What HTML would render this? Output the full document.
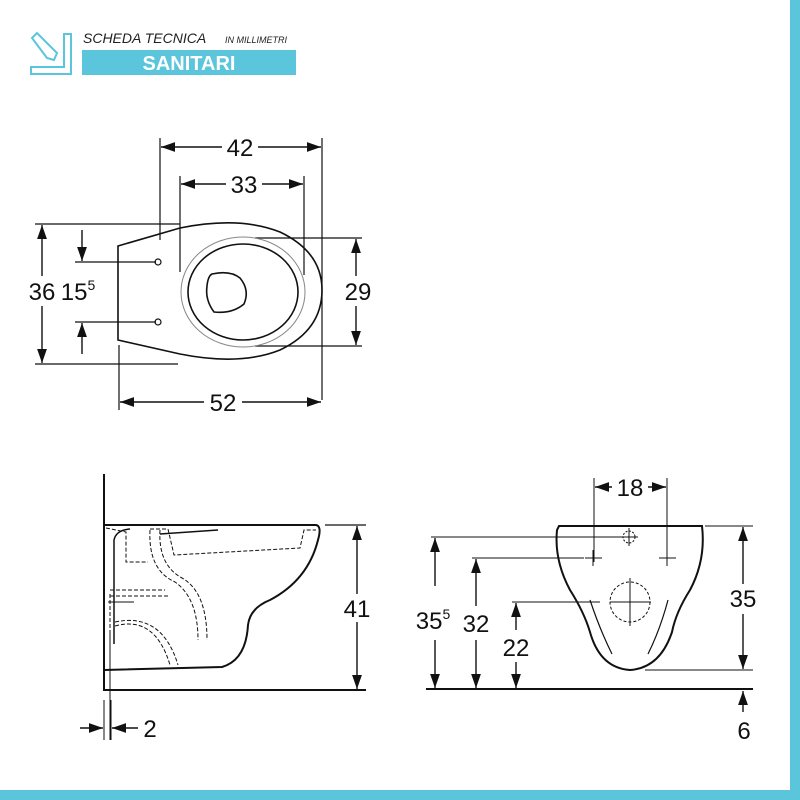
<!DOCTYPE html>
<html><head><meta charset="utf-8"><style>
body{margin:0;background:#fff}
svg{display:block;font-family:"Liberation Sans",sans-serif}
</style></head><body>
<svg width="800" height="800" viewBox="0 0 800 800" xmlns="http://www.w3.org/2000/svg">
<defs>
<marker id="b" viewBox="0 0 10 10" refX="10" refY="5" markerWidth="14" markerHeight="14" markerUnits="userSpaceOnUse" orient="auto"><path d="M0,1.5L10,5L0,8.5z" fill="#111"/></marker>
</defs>
<rect x="790" y="0" width="10" height="800" fill="#5bc5dc"/>
<rect x="0" y="790" width="800" height="10" fill="#5bc5dc"/>
<!-- header -->
<g stroke="#5bc5dc" stroke-width="2" fill="none">
<path d="M64 34h7v40H31v-7h33z"/>
<path d="M32 38l5-5 20 20-3 7-7-2z"/>
</g>
<text x="83" y="43" font-size="14" font-style="italic" fill="#222">SCHEDA TECNICA</text>
<text x="225" y="43" font-size="9" font-style="italic" fill="#222">IN MILLIMETRI</text>
<rect x="82" y="50" width="214" height="25" fill="#5bc5dc"/>
<text x="189" y="70" font-size="20" font-weight="bold" fill="#fff" text-anchor="middle">SANITARI</text>

<g stroke="#111" stroke-width="1.2" fill="none">
<path d="M160 138V240M322 138V400M180 176V272M304 176V275M35 224H180M35 364H178M75 262H156M75 322H156M255 238H362M255 346H362M119 345V410"/>
</g>
<g stroke="#111" stroke-width="1.4" fill="none" marker-end="url(#b)">
<path d="M222 147H161"/><path d="M258 147H321"/>
<path d="M226 184H181"/><path d="M262 184H303"/>
<path d="M42 276V225"/><path d="M42 306V363"/>
<path d="M356 276V239"/><path d="M356 306V345"/>
<path d="M204 402H120"/><path d="M242 402H321"/>
<path d="M82 230V261"/><path d="M82 354V323"/>
</g>
<g stroke="#111" stroke-width="1.6" fill="none">
<path d="M118 246L180 228Q240 216 280 232Q322 252 322 290Q322 330 280 350Q240 366 180 354L118 340Z"/>
<ellipse cx="243" cy="292" rx="62" ry="55" stroke="#888" stroke-width="1"/>
<ellipse cx="243" cy="292" rx="55" ry="48"/>
<path d="M212 274Q230 270 240 278Q250 290 244 304Q232 314 214 312Q205 300 207 286Q208 276 212 274Z"/>
<circle cx="158" cy="262" r="3" stroke-width="1.2"/>
<circle cx="158" cy="322" r="3" stroke-width="1.2"/>
</g>
<g font-size="24" fill="#111" text-anchor="middle">
<text x="240" y="156">42</text>
<text x="244" y="193">33</text>
<text x="42" y="300">36</text>
<text x="78" y="300">15<tspan font-size="14" dy="-10">5</tspan></text>
<text x="358" y="300">29</text>
<text x="223" y="411">52</text>
</g>

<!-- side view -->
<g stroke="#111" stroke-width="2" fill="none">
<path d="M104 474V690H366"/>
<path d="M104 525H316Q322 526 318 540Q308 580 270 600Q250 608 248 625Q246 660 222 667L104 670"/>
<path d="M114 644V540Q116 530 130 529M160 534L218 530" stroke-width="1.5"/>
</g>
<g stroke="#111" stroke-width="1" fill="none" stroke-dasharray="4 2">
<path d="M106 528L126 532V562H148M150 529H168L174 555L300 548L304 530H316"/>
<path d="M150 530Q148 570 175 582Q198 598 198 640M160 530Q158 565 182 578Q207 592 207 640"/>
<path d="M110 590H165M110 596H170M110 594V630M115 626Q155 615 170 665M115 622Q162 612 178 665"/>
</g>
<path d="M108 602H134M110 630V740" stroke="#111" stroke-width="1" fill="none"/>
<path d="M325 525H366" stroke="#111" stroke-width="1.2"/>
<g stroke="#111" stroke-width="1.4" fill="none" marker-end="url(#b)">
<path d="M357 594V526"/><path d="M357 622V689"/>
<path d="M80 728H103"/><path d="M138 728H112"/>
</g>
<path d="M104 700V740M111 700V740" stroke="#111" stroke-width="1"/>
<g font-size="24" fill="#111" text-anchor="middle">
<text x="357" y="617">41</text>
<text x="150" y="737">2</text>
</g>

<!-- front view -->
<g stroke="#111" stroke-width="2" fill="none">
<path d="M426 689H753"/>
<path d="M559 526H702Q706 560 690 590Q676 612 672 632Q660 668 630 670Q600 668 590 632Q584 612 570 590Q554 560 557 530Z"/>
<path d="M590 600Q600 630 612 654M668 600Q660 630 648 654" stroke-width="1.2"/>
</g>
<g stroke="#111" stroke-width="1" fill="none">
<path d="M594 478V562M667 478V562M431 537H622M472 558H584M512 602H600"/>
<path d="M585 558H602M593 550V566M659 558H676M667 550V566"/>
<path d="M620 537H638M629 528V546M610 602H651M630 578V626"/>
<path d="M645 670H753M705 526H753"/>
<circle cx="629" cy="537" r="6" stroke-dasharray="2 1.5"/>
<circle cx="630" cy="602" r="20" stroke-dasharray="3 2"/>
</g>
<g stroke="#111" stroke-width="1.4" fill="none" marker-end="url(#b)">
<path d="M612 487H595"/><path d="M648 487H666"/>
<path d="M743 584V527"/><path d="M743 614V669"/>
<path d="M435 586V538"/><path d="M435 640V688"/>
<path d="M476 606V559"/><path d="M476 640V688"/>
<path d="M516 630V603"/><path d="M516 662V688"/>
<path d="M743 712V691"/>
</g>
<g font-size="24" fill="#111" text-anchor="middle">
<text x="630" y="496">18</text>
<text x="743" y="607">35</text>
<text x="433" y="629">35<tspan font-size="14" dy="-10">5</tspan></text>
<text x="476" y="632">32</text>
<text x="516" y="656">22</text>
<text x="744" y="739">6</text>
</g>
</svg>
</body></html>
